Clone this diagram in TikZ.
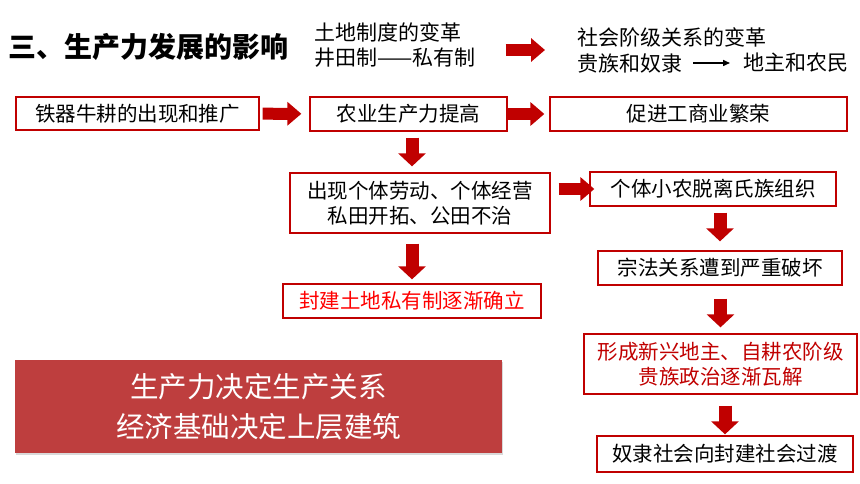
\documentclass[tikz,border=0pt]{standalone}
\usepackage{fontspec}
\setmainfont{Noto Sans CJK SC}
\usepackage{tikz}
\usetikzlibrary{positioning,calc,arrows.meta,shadows}
\definecolor{darkred}{RGB}{192,0,0}
\definecolor{brightred}{RGB}{255,0,0}
\definecolor{rulered}{RGB}{190,62,62}
\tikzstyle{box} = [draw=darkred, line width=1.3pt, inner sep=0pt, align=center, font=\fontsize{20.5}{25.5}\selectfont]
\tikzstyle{plain} = [inner sep=0pt, anchor=west, font=\fontsize{21}{25}\selectfont]
\tikzstyle{hbar} = [draw=darkred, line width=12pt, -{Triangle[length=14pt,width=23pt]}]
\tikzstyle{vbar} = [draw=darkred, line width=13pt, -{Triangle[length=13pt,width=27pt]}]

\begin{document}
\begin{tikzpicture}[x=1pt,y=-1pt]
  \useasboundingbox (0,0) rectangle (860,484);
  % heading line
  \node[plain, font=\fontsize{28}{30}\selectfont\bfseries] (title) at (8,47) {三、生产力发展的影响};
  \node[plain, align=left] (land) at (314,45.5) {土地制度的变革\\井田制——私有制};
  \node[plain] (class) at (577,37) {社会阶级关系的变革};
  \node[plain] (nobles) at (577,63) {贵族和奴隶};
  \node[plain] (lords) at (743,63) {地主和农民};
  \coordinate (hdr) at (0,50);
  \path[hbar, shorten <=30pt, shorten >=32pt] (land.east |- hdr) -- (class.west |- hdr);
  \draw[line width=1.5pt, -{Triangle[length=7pt,width=6pt]}, shorten <=11pt, shorten >=13pt] (nobles.east) -- (lords.west);

  % boxes
  \node[box, minimum width=243pt, minimum height=33pt] (iron) at (137.5,113.5) {铁器牛耕的出现和推广};
  \node[box, minimum width=197pt, minimum height=34pt] (farm) at (408.5,114) {农业生产力提高};
  \node[box, minimum width=297pt, minimum height=34pt] (trade) at (698.5,114) {促进工商业繁荣};
  \node[box, minimum width=260pt, minimum height=60pt] (private) at (420,203) {出现个体劳动、个体经营\\私田开拓、公田不治};
  \node[box, minimum width=246pt, minimum height=34pt] (peasant) at (713,189) {个体小农脱离氏族组织};
  \node[box, minimum width=244pt, minimum height=34pt] (clan) at (720,268) {宗法关系遭到严重破坏};
  \node[box, minimum width=258pt, minimum height=34pt, text=brightred] (feudal) at (412,301) {封建土地私有制逐渐确立};
  \node[box, minimum width=273pt, minimum height=60pt, text=darkred] (landlord) at (720.5,364) {形成新兴地主、自耕农阶级\\贵族政治逐渐瓦解};
  \node[box, minimum width=256pt, minimum height=36pt] (transit) at (725,454) {奴隶社会向封建社会过渡};

  \node[fill=rulered, minimum width=487pt, minimum height=93pt, inner sep=0pt, align=center, text=white,
        drop shadow={shadow xshift=1pt, shadow yshift=-1.5pt, opacity=.3},
        font=\fontsize{28.5}{40}\selectfont] (rule) at (258.5,406.5) {生产力决定生产关系\\经济基础决定上层建筑};

  % block arrows
  \path[hbar, shorten <=3pt, shorten >=8pt] (iron) -- (farm);
  \path[hbar, shorten <=0pt, shorten >=5pt] (farm) -- (trade);
  \path[hbar, shorten <=8pt, shorten >=-5pt] (private.east |- peasant.west) -- (peasant.west);
  \path[vbar, shorten <=6pt, shorten >=6pt] (feudal.north |- farm.south) -- (feudal.north |- private.north);
  \path[vbar, shorten <=10pt, shorten >=4pt] (feudal.north |- private.south) -- (feudal.north);
  \path[vbar, shorten <=6pt, shorten >=9pt] (clan.north |- peasant.south) -- (clan.north);
  \path[vbar, shorten <=13pt, shorten >=6pt] (landlord.north |- clan.south) -- (landlord.north);
  \path[vbar, shorten <=11pt, shorten >=1pt] (transit.north |- landlord.south) -- (transit.north);
\end{tikzpicture}
\end{document}
